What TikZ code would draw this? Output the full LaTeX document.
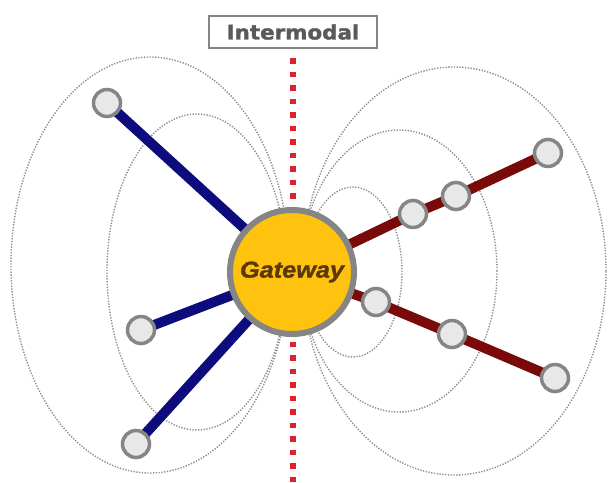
\documentclass[tikz,border=0pt]{standalone}
\usepackage{fontspec}
\setmainfont{Liberation Sans}
\newfontfamily\tagfont{DejaVu Sans Bold}[FakeBold=1.6]
\newfontfamily\hubfont{Liberation Sans Bold Italic}[FakeBold=1.2]
\usetikzlibrary{backgrounds}
\definecolor{gold}{HTML}{FFC20E}
\definecolor{rimgray}{HTML}{858585}
\definecolor{stopfill}{HTML}{E8E8E8}
\definecolor{navyline}{HTML}{0C0C7C}
\definecolor{maroonline}{HTML}{7A0A0A}
\definecolor{gwtext}{HTML}{5A3808}
\definecolor{divred}{HTML}{E0202C}
\definecolor{fieldgray}{HTML}{8C8C8C}
\definecolor{tagtext}{HTML}{5A5A5A}
\tikzset{
  hub/.style={circle, fill=gold, draw=rimgray, line width=6pt, minimum size=124pt, inner sep=0pt},
  stop/.style={circle, fill=stopfill, draw=rimgray, line width=3.5pt, minimum size=27pt, inner sep=0pt},
  bluelink/.style={draw=navyline, line width=10pt},
  redlink/.style={draw=maroonline, line width=10pt},
  field/.style={draw=fieldgray, line width=1.4pt, dash pattern=on 1.3pt off 1.5pt},
  divider/.style={draw=divred, line width=5.5pt, dash pattern=on 5.5pt off 8pt},
  tagbox/.style={draw=rimgray, line width=2pt, fill=white, minimum width=168pt, minimum height=32pt, inner sep=0pt}
}
\begin{document}
\begin{tikzpicture}[x=1pt, y=-1pt]
\useasboundingbox (0,0) rectangle (610,482);

% nodes
\node[hub] (gw) at (292,272) {\hubfont\fontsize{23}{23}\selectfont\color{gwtext}\scalebox{1.1}[1]{Gateway}};
\node[stop] (l1) at (107,103) {};
\node[stop] (l2) at (141,330) {};
\node[stop] (l3) at (136,444) {};
\node[stop] (r1) at (548,153) {};
\node[stop] (r2) at (456,196) {};
\node[stop] (r3) at (413,214) {};
\node[stop] (r4) at (376,302) {};
\node[stop] (r5) at (452,334) {};
\node[stop] (r6) at (555,378) {};
\node[tagbox] (tag) at (293,32) {\tagfont\fontsize{20}{20}\selectfont\color{tagtext}\scalebox{1.07}[1]{Intermodal}};
\coordinate (divtop) at (293,58);
\coordinate (divbot) at (293,482);

\begin{scope}[on background layer]
  % catchment ellipses
  \draw[field] (150,265) ellipse [x radius=139pt, y radius=208pt];
  \draw[field] (197,272) ellipse [x radius=90pt, y radius=158pt];
  \draw[field] (454,271) ellipse [x radius=152pt, y radius=204pt];
  \draw[field] (399,271) ellipse [x radius=98pt, y radius=141pt];
  \draw[field] (353,272) ellipse [x radius=49pt, y radius=85pt];
  % modal divide
  \draw[divider] (divtop) -- (divbot);
  % links
  \draw[bluelink] (gw.center) -- (l1.center);
  \draw[bluelink] (gw.center) -- (l2.center);
  \draw[bluelink] (gw.center) -- (l3.center);
  \draw[redlink] (gw.center) -- (r3.center) -- (r2.center) -- (r1.center);
  \draw[redlink] (gw.center) -- (r4.center) -- (r5.center) -- (r6.center);
\end{scope}
\end{tikzpicture}
\end{document}
